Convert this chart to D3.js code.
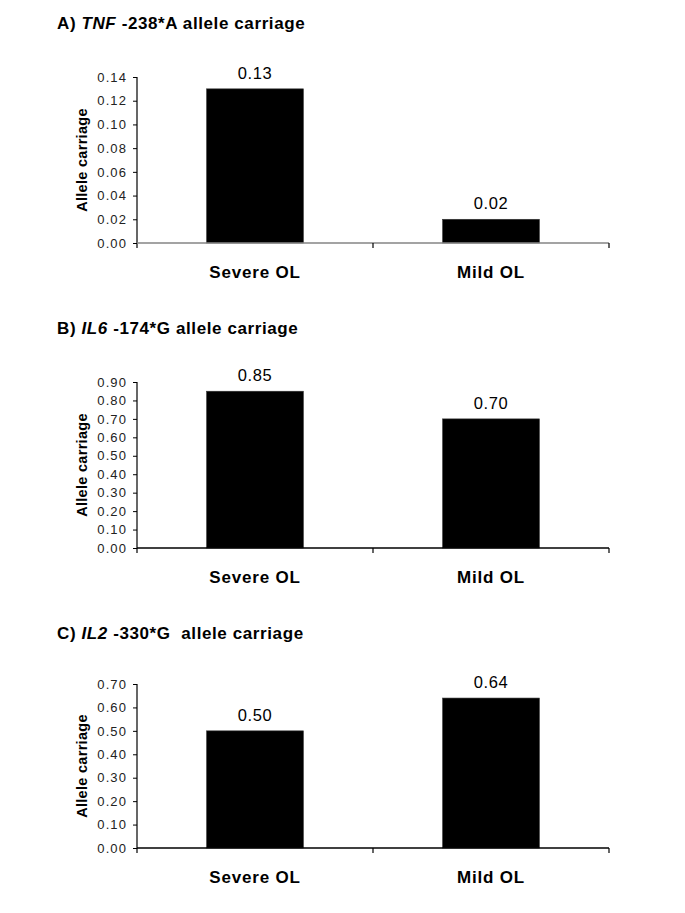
<!DOCTYPE html>
<html>
<head>
<meta charset="utf-8">
<script src="https://cdn.jsdelivr.net/npm/d3@7/dist/d3.min.js"></script>
<style>
  html, body { margin: 0; padding: 0; background: #fff; }
  svg { display: block; font-family: Arial, "Liberation Sans", sans-serif; }
</style>
</head>
<body>
<svg id="chart" width="685" height="913"></svg>
<script>
// ---- data ----
const categories = ["Severe OL", "Mild OL"];
const tnfValues = [0.13, 0.02];
const il6Values = [0.85, 0.70];
const il2Values = [0.50, 0.64];
const tnfTicks = [0.00, 0.02, 0.04, 0.06, 0.08, 0.10, 0.12, 0.14];
const il6Ticks = [0.00, 0.10, 0.20, 0.30, 0.40, 0.50, 0.60, 0.70, 0.80, 0.90];
const il2Ticks = [0.00, 0.10, 0.20, 0.30, 0.40, 0.50, 0.60, 0.70];
const titlePrefixes = ["A) ", "B) ", "C) "];
const titleGenes = ["TNF", "IL6", "IL2"];
const titleSuffixes = [" -238*A allele carriage", " -174*G allele carriage", " -330*G  allele carriage"];
const yAxisTitle = "Allele carriage";

const panels = [
  { values: tnfValues, ticks: tnfTicks, top: 77, bottom: 243, titleY: 29, axisColor: "#858585" },
  { values: il6Values, ticks: il6Ticks, top: 382, bottom: 548, titleY: 334, axisColor: "#000" },
  { values: il2Values, ticks: il2Ticks, top: 684, bottom: 848, titleY: 639, axisColor: "#000" }
];

const svg = d3.select("#chart");
const left = 137, right = 609;
const fmt = d3.format(".2f");

panels.forEach((p, i) => {
  const g = svg.append("g");
  const x = d3.scaleBand().domain(categories).range([left, right])
    .paddingInner(0.59).paddingOuter(0.295);
  const step = x.step();
  const y = d3.scaleLinear().domain([0, d3.max(p.ticks)]).range([p.bottom, p.top]);

  // title
  const t = g.append("text").attr("x", 57).attr("y", p.titleY)
    .attr("font-size", 17).attr("font-weight", "bold")
    .attr("letter-spacing", 0.6)
    .style("white-space", "pre").attr("fill", "#000");
  t.append("tspan").text(titlePrefixes[i]);
  t.append("tspan").attr("font-style", "italic").text(titleGenes[i]);
  t.append("tspan").text(titleSuffixes[i]);

  // bars
  g.selectAll("rect.bar").data(p.values).join("rect")
    .attr("class", "bar")
    .attr("x", (d, j) => x(categories[j]))
    .attr("width", x.bandwidth())
    .attr("y", d => y(d))
    .attr("height", d => y(0) - y(d))
    .attr("fill", "#000")
    .attr("stroke", "#333").attr("stroke-width", 0.6);

  // value labels
  g.selectAll("text.val").data(p.values).join("text")
    .attr("class", "val")
    .attr("x", (d, j) => x(categories[j]) + x.bandwidth() / 2)
    .attr("y", d => y(d) - 10)
    .attr("text-anchor", "middle")
    .attr("font-size", 16.5)
    .attr("letter-spacing", 0.6)
    .text(d => fmt(d));

  // y axis
  const yAxis = d3.axisLeft(y).tickValues(p.ticks).tickFormat(fmt).tickSize(4).tickPadding(6);
  const ya = g.append("g").attr("transform", `translate(${left},0)`).call(yAxis);
  ya.select(".domain").attr("d", `M0,${p.top}V${p.bottom + 5}`).attr("stroke", "#000").attr("stroke-width", 1.2);
  ya.selectAll(".tick line").attr("stroke", "#000");
  ya.selectAll(".tick text").attr("font-size", 13).attr("letter-spacing", 1.1)
    .attr("fill", "#222").attr("font-family", "Arial, 'Liberation Sans', sans-serif");

  // x axis line
  g.append("line").attr("x1", left).attr("x2", right)
    .attr("y1", p.bottom).attr("y2", p.bottom)
    .attr("stroke", p.axisColor).attr("stroke-width", 1.5);

  // x tick marks at category boundaries
  const boundaryX = categories.map((c, j) => left + step * (j + 1));
  g.selectAll("line.xt").data(boundaryX).join("line")
    .attr("class", "xt")
    .attr("x1", d => d).attr("x2", d => d)
    .attr("y1", p.bottom).attr("y2", p.bottom + 5)
    .attr("stroke", "#000").attr("stroke-width", 1.2);

  // category labels
  g.selectAll("text.cat").data(categories).join("text")
    .attr("class", "cat")
    .attr("x", c => x(c) + x.bandwidth() / 2)
    .attr("y", p.bottom + 35)
    .attr("text-anchor", "middle")
    .attr("font-size", 17).attr("font-weight", "bold")
    .attr("letter-spacing", 0.8)
    .text(c => c);

  // y axis title
  g.append("text")
    .attr("transform", `translate(87,${(p.top + p.bottom) / 2}) rotate(-90)`)
    .attr("text-anchor", "middle")
    .attr("font-size", 14.5).attr("font-weight", "bold")
    .attr("letter-spacing", 0.3)
    .text(yAxisTitle);
});
</script>
</body>
</html>
